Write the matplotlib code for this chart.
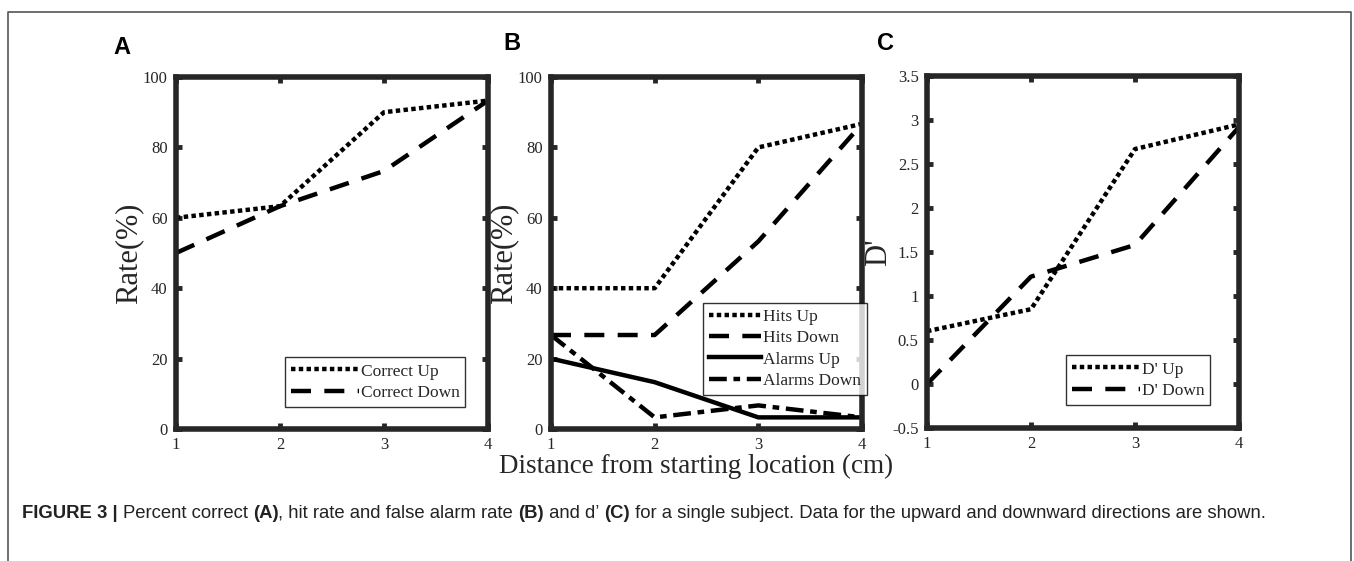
import matplotlib
matplotlib.use("Agg")
import matplotlib.pyplot as plt
from matplotlib.lines import Line2D

x = [1, 2, 3, 4]
correct_up = [60, 63.3, 90, 93.3]
correct_down = [50, 63.3, 73.3, 93.3]
hits_up = [40, 40, 80, 86.7]
hits_down = [26.7, 26.7, 53.3, 86.7]
alarms_up = [20, 13.3, 3.3, 3.3]
alarms_down = [26.7, 3.3, 6.7, 3.3]
dprime_up = [0.6, 0.85, 2.67, 2.95]
dprime_down = [0.0, 1.22, 1.58, 2.92]

rate_ticks = [0, 20, 40, 60, 80, 100]
d_ticks = [-0.5, 0, 0.5, 1, 1.5, 2, 2.5, 3, 3.5]
d_ticklabels = ['-0.5', '0', '0.5', '1', '1.5', '2', '2.5', '3', '3.5']

SERIF = 'Liberation Serif'
SANS = 'Liberation Sans'
DARK = '#262626'

DOT = (0, (1.0, 0.75))
DASH = (0, (4.5, 3.0))
DASHDOT = (0, (4.0, 1.5, 1.5, 1.5))
LW = 3.2

fig = plt.figure(figsize=(13.54, 5.61), dpi=100)
W, H = 1354, 561

def axes_px(l, t, r, b):
    return fig.add_axes([l / W, 1 - b / H, (r - l) / W, (b - t) / H])

def style(ax, yticks, ylim, yticklabels=None):
    ax.set_xlim(1, 4)
    ax.set_ylim(*ylim)
    ax.set_xticks(x)
    ax.set_xticklabels([str(v) for v in x], fontfamily=SERIF, fontsize=12, color=DARK)
    ax.set_yticks(yticks)
    ax.set_yticklabels(yticklabels if yticklabels else [str(v) for v in yticks],
                       fontfamily=SERIF, fontsize=12, color=DARK)
    ax.tick_params(direction='in', length=4, width=3.5, color=DARK,
                   top=True, right=True, pad=6)
    for s in ax.spines.values():
        s.set_linewidth(4)
        s.set_color(DARK)

def legend(ax, bbox, fs=12.5, hl=3.9):
    leg = ax.legend(loc='lower left', bbox_to_anchor=bbox, bbox_transform=fig.transFigure,
                    prop={'family': SERIF, 'size': fs}, frameon=True, fancybox=False,
                    handlelength=hl, handletextpad=0.1, borderpad=0.35, labelspacing=0.3,
                    borderaxespad=0)
    leg.get_frame().set_edgecolor('black')
    leg.get_frame().set_linewidth(1.0)
    for t in leg.get_texts():
        t.set_color(DARK)
    return leg

# Panel A
axA = axes_px(176, 77, 488, 429)
axA.plot(x, correct_up, color='black', lw=LW, linestyle=DOT, label='Correct Up')
axA.plot(x, correct_down, color='black', lw=LW, linestyle=DASH, label='Correct Down')
style(axA, rate_ticks, (0, 100))
axA.set_ylabel('Rate(%)', fontfamily=SERIF, fontsize=22, color=DARK, labelpad=0)
legend(axA, (285 / W, 1 - 407 / H))

# Panel B
axB = axes_px(551, 77, 862, 429)
axB.plot(x, hits_up, color='black', lw=LW, linestyle=DOT, label='Hits Up')
axB.plot(x, hits_down, color='black', lw=LW, linestyle=DASH, label='Hits Down')
axB.plot(x, alarms_up, color='black', lw=LW, linestyle='-', label='Alarms Up')
axB.plot(x, alarms_down, color='black', lw=LW, linestyle=DASHDOT, label='Alarms Down')
style(axB, rate_ticks, (0, 100))
axB.set_ylabel('Rate(%)', fontfamily=SERIF, fontsize=22, color=DARK, labelpad=0)
legend(axB, (703 / W, 1 - 395 / H), hl=3.0)
fig.text(696 / W, 1 - 466 / H, 'Distance from starting location (cm)', fontfamily=SERIF,
         fontsize=19.5, color=DARK, ha='center', va='center')

# Panel C
axC = axes_px(927, 76, 1239, 428)
axC.plot(x, dprime_up, color='black', lw=LW, linestyle=DOT, label="D' Up")
axC.plot(x, dprime_down, color='black', lw=LW, linestyle=DASH, label="D' Down")
style(axC, d_ticks, (-0.5, 3.5), d_ticklabels)
axC.set_ylabel("D'", fontfamily=SERIF, fontsize=22, color=DARK, labelpad=-1)
legend(axC, (1066 / W, 1 - 405 / H))

# Panel letters
for lab, px, py in [('A', 122, 47), ('B', 512, 44), ('C', 885, 44)]:
    fig.text(px / W, 1 - py / H, lab, fontfamily=SANS, fontweight='bold', fontsize=17,
             ha='center', va='center', color='black')

# Border (left, top, right)
bl, bt, br = 8 / W, 1 - 12 / H, 1351 / W
fig.add_artist(Line2D([bl, bl, br, br], [0, bt, bt, 0], transform=fig.transFigure,
                      color='#555555', lw=1.2))

# Caption, built piece by piece on one baseline
parts = [('FIGURE 3 | ', 'bold'), ('Percent correct ', 'normal'), ('(A)', 'bold'),
         (', hit rate and false alarm rate ', 'normal'), ('(B)', 'bold'),
         (' and d\u2019 ', 'normal'), ('(C)', 'bold'),
         (' for a single subject. Data for the upward and downward directions are shown.', 'normal')]
renderer = fig.canvas.get_renderer()
xpos = 22.0
ybase = 1 - 518 / H
for txt, w in parts:
    t = fig.text(xpos / W, ybase, txt, fontfamily=SANS, fontweight=w, fontsize=13.3,
                 color='#222222', va='baseline', ha='left')
    bb = t.get_window_extent(renderer=renderer)
    xpos = bb.x1

fig.savefig('out.png', dpi=100)
